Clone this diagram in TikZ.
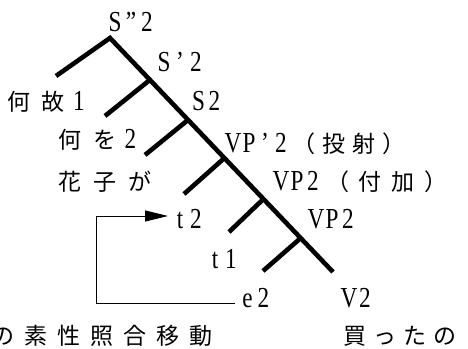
\documentclass[tikz,border=0pt]{standalone}
\usepackage{fontspec}
\usetikzlibrary{arrows.meta,calc}
\newfontfamily\lat{Liberation Serif}[FakeStretch=0.8]
\newfontfamily\jp{Noto Sans CJK JP}
\newcommand\hc[1]{\makebox[16pt]{\lat\fontsize{29}{32}\selectfont #1}}
\newcommand\fc[2][33pt]{\makebox[#1]{\jp\fontsize{23}{28}\selectfont #2}}
\tikzset{
  lab/.style={anchor=base west, inner sep=0pt, outer sep=0pt},
  tree/.style={line width=4.6pt, line cap=butt, line join=miter},
  flow/.style={line width=0.9pt, -{Triangle[length=23pt,width=11pt]}}
}
\begin{document}
\begin{tikzpicture}[x=1pt,y=-1pt]
\useasboundingbox (0,0) rectangle (468,348);
\clip (0,0) rectangle (468,348);
% tree skeleton
\coordinate (top) at (110,38);
\coordinate (lft) at (56,76);
\coordinate (bot) at (333,272);
\coordinate (e1) at (105,116);
\coordinate (e2b) at (145,155);
\coordinate (e3) at (184,194);
\coordinate (e4) at (229,232);
\coordinate (e5) at (263,271);
\draw[tree] (lft) -- (top) -- (bot);
\draw[tree] ($(top)!0.179!(bot)$) -- (e1);
\draw[tree] ($(top)!0.350!(bot)$) -- (e2b);
\draw[tree] ($(top)!0.513!(bot)$) -- (e3);
\draw[tree] ($(top)!0.688!(bot)$) -- (e4);
\draw[tree] ($(top)!0.855!(bot)$) -- (e5);
% labels
\node[lab] (sdd) at (107,31) {\hc{S}\hc{”}\hc{2}};
\node[lab] (sd) at (156,71) {\hc{S}\hc{’}\hc{2}};
\node[lab] (naze) at (1,110) {\fc[35pt]{何}\fc[35pt]{故}\hc{1}};
\node[lab] (s2) at (190.5,110) {\hc{S}\hc{2}};
\node[lab] (nani) at (52.5,148) {\fc[35pt]{何}\fc[35pt]{を}\hc{2}};
\node[lab] (vpd) at (225,152) {\hc{V}\hc{P}\hc{’}\hc{2}\fc[30pt]{（}\fc[30pt]{投}\fc[30pt]{射}\fc[30pt]{）}};
\node[lab] (hana) at (52.5,190) {\fc[35pt]{花}\fc[35pt]{子}\fc[35pt]{が}};
\node[lab] (vpa) at (273,190) {\hc{V}\hc{P}\hc{2}\fc{（}\fc{付}\fc{加}\fc{）}};
\node[lab] (t2) at (172,228) {\hc{t}\hc{2}};
\node[lab] (vp2) at (308,228) {\hc{V}\hc{P}\hc{2}};
\node[lab] (t1) at (207,268) {\hc{t}\hc{1}};
\node[lab] (e2) at (239.5,307) {\hc{e}\hc{2}};
\node[lab] (v2) at (341,307) {\hc{V}\hc{2}};
\node[lab] (move) at (-13.5,344) {\fc{の}\fc{素}\fc{性}\fc{照}\fc{合}\fc{移}\fc{動}};
\node[lab] (katta) at (340,344) {\fc[30pt]{買}\fc[30pt]{っ}\fc[30pt]{た}\fc[30pt]{の}};
% movement arrow
\coordinate (turn) at (96,303);
\draw[flow] ([xshift=-4.5pt,yshift=4pt]e2.base west) -- (turn) |- ([xshift=-4pt,yshift=12pt]t2.base west);
\end{tikzpicture}
\end{document}
